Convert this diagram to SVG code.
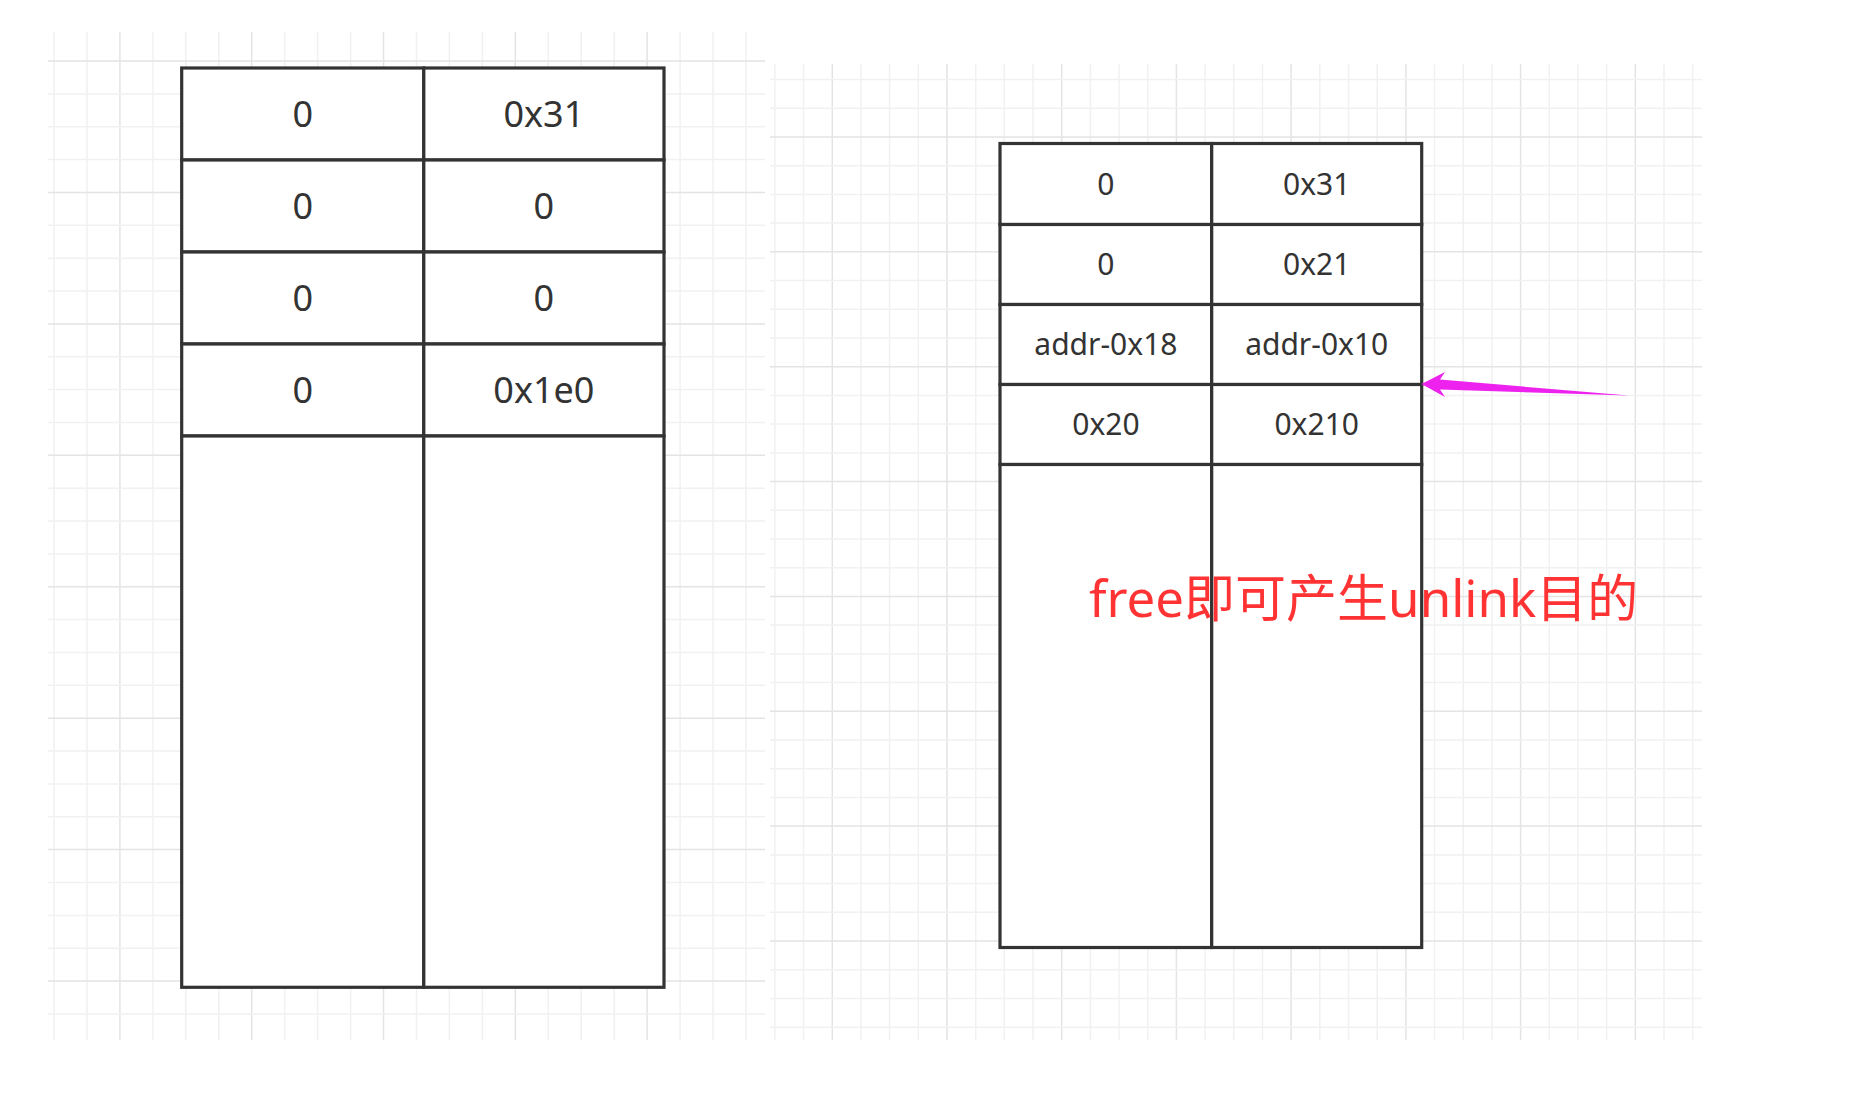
<svg xmlns="http://www.w3.org/2000/svg" width="1866" height="1111" viewBox="0 0 1866 1111">
<style>
.gl{fill:none;stroke:#f1f1f1;stroke-width:1.5}
.gd{fill:none;stroke:#e4e4e4;stroke-width:1.5}
.cell{fill:#ffffff;stroke:#333333;stroke-width:3.2}
.t1{font-family:"Noto Sans","Liberation Sans",sans-serif;font-size:36px;fill:#333333;text-anchor:middle}
.t2{font-family:"Noto Sans","Liberation Sans",sans-serif;font-size:30px;fill:#333333;text-anchor:middle}
.note{font-family:"Noto Sans","Noto Sans CJK SC",sans-serif;font-size:51px;fill:#ff3333}
</style>
<rect x="0" y="0" width="1866" height="1111" fill="#ffffff"/>
<g id="grid-left">
<path class="gl" d="M54 32V1040M87 32V1040M152.9 32V1040M185.8 32V1040M218.8 32V1040M284.7 32V1040M317.6 32V1040M350.6 32V1040M416.5 32V1040M449.4 32V1040M482.4 32V1040M548.3 32V1040M581.2 32V1040M614.2 32V1040M680.1 32V1040M713 32V1040M746 32V1040"/>
<path class="gd" d="M119.9 32V1040M251.7 32V1040M383.5 32V1040M515.3 32V1040M647.1 32V1040"/>
<path class="gl" d="M48 93.9H765M48 126.7H765M48 159.6H765M48 225.3H765M48 258.2H765M48 291H765M48 356.7H765M48 389.6H765M48 422.5H765M48 488.2H765M48 521H765M48 553.9H765M48 619.6H765M48 652.5H765M48 685.3H765M48 751.1H765M48 783.9H765M48 816.8H765M48 882.5H765M48 915.4H765M48 948.2H765M48 1013.9H765"/>
<path class="gd" d="M48 61H765M48 192.4H765M48 323.9H765M48 455.3H765M48 586.8H765M48 718.2H765M48 849.6H765M48 981.1H765"/>
</g>
<g id="grid-right">
<path class="gl" d="M774.9 64V1040M803.6 64V1040M860.9 64V1040M889.6 64V1040M918.3 64V1040M975.7 64V1040M1004.3 64V1040M1033 64V1040M1090.4 64V1040M1119.1 64V1040M1147.7 64V1040M1205.1 64V1040M1233.8 64V1040M1262.5 64V1040M1319.8 64V1040M1348.5 64V1040M1377.2 64V1040M1434.5 64V1040M1463.2 64V1040M1491.9 64V1040M1549.3 64V1040M1577.9 64V1040M1606.6 64V1040M1664 64V1040M1692.7 64V1040"/>
<path class="gd" d="M832.3 64V1040M947 64V1040M1061.7 64V1040M1176.4 64V1040M1291.1 64V1040M1405.9 64V1040M1520.6 64V1040M1635.3 64V1040"/>
<path class="gl" d="M770 79.6H1702M770 108.3H1702M770 165.7H1702M770 194.4H1702M770 223.1H1702M770 280.6H1702M770 309.3H1702M770 338H1702M770 395.4H1702M770 424.1H1702M770 452.9H1702M770 510.3H1702M770 539H1702M770 567.7H1702M770 625.1H1702M770 653.9H1702M770 682.6H1702M770 740H1702M770 768.7H1702M770 797.4H1702M770 854.9H1702M770 883.6H1702M770 912.3H1702M770 969.7H1702M770 998.4H1702M770 1027.2H1702"/>
<path class="gd" d="M770 137H1702M770 251.8H1702M770 366.7H1702M770 481.6H1702M770 596.4H1702M770 711.3H1702M770 826.1H1702M770 941H1702"/>
</g>
<g id="left-chunk">
<g id="l-r1c1"><rect class="cell" x="181.7" y="68" width="242.1" height="92"/><text class="t1" x="302.8" y="127">0</text></g>
<g id="l-r1c2"><rect class="cell" x="423.8" y="68" width="240.2" height="92"/><text class="t1" x="543.9" y="127">0x31</text></g>
<g id="l-r2c1"><rect class="cell" x="181.7" y="160" width="242.1" height="92"/><text class="t1" x="302.8" y="219">0</text></g>
<g id="l-r2c2"><rect class="cell" x="423.8" y="160" width="240.2" height="92"/><text class="t1" x="543.9" y="219">0</text></g>
<g id="l-r3c1"><rect class="cell" x="181.7" y="252" width="242.1" height="92"/><text class="t1" x="302.8" y="311">0</text></g>
<g id="l-r3c2"><rect class="cell" x="423.8" y="252" width="240.2" height="92"/><text class="t1" x="543.9" y="311">0</text></g>
<g id="l-r4c1"><rect class="cell" x="181.7" y="344" width="242.1" height="92"/><text class="t1" x="302.8" y="403">0</text></g>
<g id="l-r4c2"><rect class="cell" x="423.8" y="344" width="240.2" height="92"/><text class="t1" x="543.9" y="403">0x1e0</text></g>
<g id="l-r5c1"><rect class="cell" x="181.7" y="436" width="242.1" height="551.3"/></g>
<g id="l-r5c2"><rect class="cell" x="423.8" y="436" width="240.2" height="551.3"/></g>
</g>
<g id="right-chunk">
<g id="r-r1c1"><rect class="cell" x="1000" y="143.5" width="211.7" height="81"/><text class="t2" x="1105.9" y="194.7">0</text></g>
<g id="r-r1c2"><rect class="cell" x="1211.7" y="143.5" width="210" height="81"/><text class="t2" x="1316.7" y="194.7">0x31</text></g>
<g id="r-r2c1"><rect class="cell" x="1000" y="224.5" width="211.7" height="80"/><text class="t2" x="1105.9" y="275.2">0</text></g>
<g id="r-r2c2"><rect class="cell" x="1211.7" y="224.5" width="210" height="80"/><text class="t2" x="1316.7" y="275.2">0x21</text></g>
<g id="r-r3c1"><rect class="cell" x="1000" y="304.5" width="211.7" height="80"/><text class="t2" x="1105.9" y="355.2">addr-0x18</text></g>
<g id="r-r3c2"><rect class="cell" x="1211.7" y="304.5" width="210" height="80"/><text class="t2" x="1316.7" y="355.2">addr-0x10</text></g>
<g id="r-r4c1"><rect class="cell" x="1000" y="384.5" width="211.7" height="80"/><text class="t2" x="1105.9" y="435.2">0x20</text></g>
<g id="r-r4c2"><rect class="cell" x="1211.7" y="384.5" width="210" height="80"/><text class="t2" x="1316.7" y="435.2">0x210</text></g>
<g id="r-r5c1"><rect class="cell" x="1000" y="464.5" width="211.7" height="483"/></g>
<g id="r-r5c2"><rect class="cell" x="1211.7" y="464.5" width="210" height="483"/></g>
</g>
<g id="connectors">
<polygon points="1421.5,384 1445,372 1440,379.5 1628.5,395.5 1440,389.5 1445,397" fill="#ee22ee"/>
</g>
<g id="note">
<text class="note" x="1089" y="617">free即可产生unlink目的</text>
</g>
</svg>
